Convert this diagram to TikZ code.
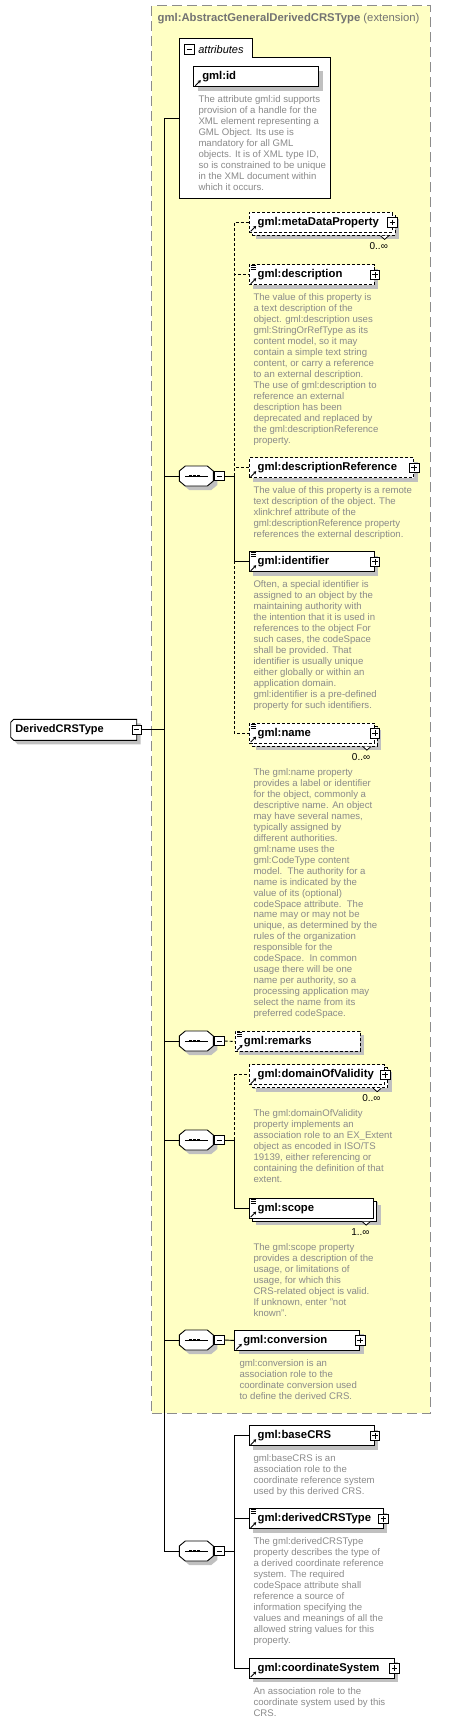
\documentclass[tikz,border=0pt]{standalone}
\usepackage{fontspec}
\setmainfont{Liberation Sans}
\usepackage{tikz}
\usetikzlibrary{arrows.meta,positioning,shadows}
\definecolor{extfill}{HTML}{FFFFC4}
\definecolor{extline}{HTML}{8C8C8C}
\definecolor{shadowgray}{HTML}{C0C0C0}
\definecolor{docgray}{HTML}{8A8A8A}
\definecolor{titlegray}{HTML}{737373}
\newcommand{\xsdlabelfont}{\fontsize{11.3}{13}\selectfont\bfseries}
\newcommand{\xsddocfont}{\fontsize{9.6}{10.97}\selectfont}
\tikzset{
    extbox/.style={
        draw=extline, fill=extfill, line width=0.9pt, dash pattern=on 10pt off 5pt,
        anchor=north west, inner sep=0},
    exttitle/.style={anchor=west, inner sep=0, text=titlegray, font=\fontsize{11.3}{13}\selectfont},
    xsdframe/.style={draw, fill=white, line width=0.9pt},
    attrtitle/.style={inner sep=0, font=\fontsize{11}{13}\selectfont\itshape},
    xsdshadow/.style={general shadow={fill=shadowgray, shadow xshift=4pt, shadow yshift=-4pt}},
    xsdshape/.style={draw, fill=white, line width=0.9pt, xsdshadow},
    xsdelem/.style={
        draw, fill=white, line width=0.9pt, anchor=north west,
        minimum height=20pt, inner xsep=8.5pt, inner ysep=0, align=left,
        font=\xsdlabelfont, xsdshadow},
    xsdopt/.style={dash pattern=on 3pt off 2pt},
    xsdmulti/.style={
        general shadow={fill=shadowgray, shadow xshift=7pt, shadow yshift=-7pt},
        general shadow={draw, fill=white, shadow xshift=3pt, shadow yshift=-3pt}},
    xsdroot/.style={
        anchor=north west, minimum height=21pt, text width=116.8pt, inner xsep=4.6pt,
        inner ysep=0, outer sep=0, align=left, font=\fontsize{11}{13}\selectfont\bfseries},
    xsdseq/.style={minimum width=34pt, minimum height=20pt, inner sep=0, outer sep=0, anchor=west},
    xsdbox/.style={draw, fill=white, line width=0.8pt, minimum size=9.5pt, inner sep=0},
    xsdminus/.style={xsdbox, path picture={
            \draw ([xshift=2pt]path picture bounding box.west)
                -- ([xshift=-2pt]path picture bounding box.east);}},
    xsdplus/.style={xsdbox, path picture={
            \draw ([xshift=2pt]path picture bounding box.west)
                -- ([xshift=-2pt]path picture bounding box.east)
                ([yshift=-2pt]path picture bounding box.north)
                -- ([yshift=2pt]path picture bounding box.south);}},
    xsddoc/.style={inner sep=0, align=left, text=docgray, font=\xsddocfont},
    xsdmult/.style={inner sep=0, anchor=east, font=\fontsize{10}{12}\selectfont},
    xsdref/.style={line width=0.9pt, -{Stealth[length=3pt,width=3.5pt]}},
    xsdlink/.style={line width=0.9pt},
    xsdoptlink/.style={xsdlink, dash pattern=on 3pt off 2pt},
}

\begin{document}
\begin{tikzpicture}[x=1pt, y=-1pt]
    \useasboundingbox (0,0) rectangle (469,1722);

    % --- Extension frame --------------------------------------------------------
    \node[extbox, minimum width=278.7pt, minimum height=1407.4pt] (ext) at (151.3,5.3) {};
    \node[exttitle] (ext-title) at (157.5,19) {%
        \textbf{gml:AbstractGeneralDerivedCRSType} (extension)};

    % --- Attributes -------------------------------------------------------------
    \draw[xsdframe] (179.3,198.3) |- (252.3,38.3) |- (330.3,57.3) -- (330.3,198.3) -- cycle;
    \node[xsdminus] (attr-minus) at (189.5,49.5) {};
    \node[attrtitle, right=3.5pt of attr-minus] (attr-title) {attributes};
    \coordinate (attr) at (179.3,118.3);
    \node[xsdelem, text width=108pt] (id) at (193.3,66.3) {gml:id};
    \node[xsddoc, below right=8.3pt and 5pt of id.south west] (id-doc) {%
        The attribute gml:id supports\\
        provision of a handle for the\\
        XML element representing a\\
        GML Object. Its use is\\
        mandatory for all GML\\
        objects. It is of XML type ID,\\
        so is constrained to be unique\\
        in the XML document within\\
        which it occurs.};

    % --- Root -------------------------------------------------------------------
    \draw[xsdshape] (13.7,719.3) -- (136.7,719.3) -- (136.7,740.3) -- (13.7,740.3)
        -- (10.7,737.3) -- (10.7,722.3) -- cycle;
    \node[xsdroot] (root) at (10.7,719.3) {DerivedCRSType};
    \node[xsdminus] (root-minus) at (root.east) {};

    % --- Compositors ------------------------------------------------------------
    \foreach \s/\y in {seq1/476,seq2/1041,seq3/1140,seq4/1340,seq5/1551} {
        \draw[xsdshape] (179.3,\y) ++(0,-5) -- ++(6,-5) -- ++(22,0) -- ++(6,5)
            -- ++(0,10) -- ++(-6,5) -- ++(-22,0) -- ++(-6,-5) -- cycle;
        \node[xsdseq] (\s) at (179.3,\y) {};
        \draw[xsdlink] ([xshift=-11pt]\s.center) -- ([xshift=12pt]\s.center);
        \foreach \d in {-6pt,-2pt,2pt}
            \fill ([xshift=\d]\s.center) +(-1.5,-1.3) rectangle +(1.5,1.3);
        \node[xsdminus, right=1pt of \s] (\s-minus) {};
    }

    % --- First sequence ---------------------------------------------------------
    \node[xsdelem, xsdopt, xsdmulti, text width=126pt] (meta) at (248.7,212) {gml:metaDataProperty};
    \node[xsdelem, xsdopt, text width=108.3pt] (desc) at (248.7,264.3) {gml:description};
    \node[xsddoc, below right=8.3pt and 4.6pt of desc.south west] (desc-doc) {%
        The value of this property is\\
        a text description of the\\
        object. gml:description uses\\
        gml:StringOrRefType as its\\
        content model, so it may\\
        contain a simple text string\\
        content, or carry a reference\\
        to an external description.\\
        The use of gml:description to\\
        reference an external\\
        description has been\\
        deprecated and replaced by\\
        the gml:descriptionReference\\
        property.};
    \node[xsdelem, xsdopt, text width=147.6pt] (descref) at (248.7,457.3) {gml:descriptionReference};
    \node[xsddoc, below right=8.3pt and 4.6pt of descref.south west] (descref-doc) {%
        The value of this property is a remote\\
        text description of the object. The\\
        xlink:href attribute of the\\
        gml:descriptionReference property\\
        references the external description.};
    \node[xsdelem, text width=108.3pt] (ident) at (248.7,551.3) {gml:identifier};
    \node[xsddoc, below right=8.3pt and 4.6pt of ident.south west] (ident-doc) {%
        Often, a special identifier is\\
        assigned to an object by the\\
        maintaining authority with\\
        the intention that it is used in\\
        references to the object For\\
        such cases, the codeSpace\\
        shall be provided. That\\
        identifier is usually unique\\
        either globally or within an\\
        application domain.\\
        gml:identifier is a pre-defined\\
        property for such identifiers.};
    \node[xsdelem, xsdopt, xsdmulti, text width=108.3pt] (name) at (248.7,722.7) {gml:name};
    \node[xsddoc, below right=24.6pt and 4.6pt of name.south west] (name-doc) {%
        The gml:name property\\
        provides a label or identifier\\
        for the object, commonly a\\
        descriptive name. An object\\
        may have several names,\\
        typically assigned by\\
        different authorities.\\
        gml:name uses the\\
        gml:CodeType content\\
        model.\ \ The authority for a\\
        name is indicated by the\\
        value of its (optional)\\
        codeSpace attribute.\ \ The\\
        name may or may not be\\
        unique, as determined by the\\
        rules of the organization\\
        responsible for the\\
        codeSpace.\ \ In common\\
        usage there will be one\\
        name per authority, so a\\
        processing application may\\
        select the name from its\\
        preferred codeSpace.};

    % --- Second and third sequence ----------------------------------------------
    \node[xsdelem, xsdopt, text width=108pt] (remarks) at (235,1031) {gml:remarks};
    \node[xsdelem, xsdopt, xsdmulti, text width=118.6pt] (dov) at (248.7,1064.3) {gml:domainOfValidity};
    \node[xsddoc, below right=24.6pt and 4.6pt of dov.south west] (dov-doc) {%
        The gml:domainOfValidity\\
        property implements an\\
        association role to an EX\_Extent\\
        object as encoded in ISO/TS\\
        19139, either referencing or\\
        containing the definition of that\\
        extent.};
    \node[xsdelem, xsdmulti, text width=107.6pt] (scope) at (248.7,1197.7) {gml:scope};
    \node[xsddoc, below right=24.6pt and 4.6pt of scope.south west] (scope-doc) {%
        The gml:scope property\\
        provides a description of the\\
        usage, or limitations of\\
        usage, for which this\\
        CRS-related object is valid.\\
        If unknown, enter "not\\
        known".};

    % --- Fourth sequence --------------------------------------------------------
    \node[xsdelem, text width=108pt] (conv) at (234.3,1330) {gml:conversion};
    \node[xsddoc, below right=8.3pt and 5pt of conv.south west] (conv-doc) {%
        gml:conversion is an\\
        association role to the\\
        coordinate conversion used\\
        to define the derived CRS.};

    % --- Fifth sequence ---------------------------------------------------------
    \node[xsdelem, text width=108.3pt] (base) at (248.7,1425.3) {gml:baseCRS};
    \node[xsddoc, below right=8.3pt and 4.6pt of base.south west] (base-doc) {%
        gml:baseCRS is an\\
        association role to the\\
        coordinate reference system\\
        used by this derived CRS.};
    \node[xsdelem, text width=116.8pt] (dcrs) at (248.7,1508.3) {gml:derivedCRSType};
    \node[xsddoc, below right=8.3pt and 4.6pt of dcrs.south west] (dcrs-doc) {%
        The gml:derivedCRSType\\
        property describes the type of\\
        a derived coordinate reference\\
        system. The required\\
        codeSpace attribute shall\\
        reference a source of\\
        information specifying the\\
        values and meanings of all the\\
        allowed string values for this\\
        property.};
    \node[xsdelem, text width=128pt] (cs) at (248.7,1657.7) {gml:coordinateSystem};
    \node[xsddoc, below right=8.3pt and 4.6pt of cs.south west] (cs-doc) {%
        An association role to the\\
        coordinate system used by this\\
        CRS.};

    % --- Icons, expanders and occurrences ---------------------------------------
    \foreach \e in {id,meta,desc,descref,ident,name,remarks,dov,scope,conv,base,dcrs,cs}
        \draw[xsdref] ([shift={(2,-1.5)}]\e.south west) -- ++(5.5,-5.5);
    \foreach \e in {desc,ident,name,remarks,scope,dcrs}
        \foreach \k in {1.5,3.5,5.5}
            \draw[line width=0.8pt] ([shift={(2,\k)}]\e.north west) -- ++(5,0);
    \foreach \e in {meta,desc,descref,ident,name,dov,conv,base,dcrs,cs}
        \node[xsdplus] (\e-plus) at (\e.east) {};
    \foreach \e in {meta,name,dov,scope}
        \draw[line width=0.8pt, fill=white] ([shift={(-12,3)}]\e.south east) -- ++(4,3.5) -- ++(4,-3.5);
    \node[xsdmult] (meta-mult) at ([shift={(-4.5,13)}]meta.south east) {0..∞};
    \node[xsdmult] (name-mult) at ([shift={(-4.5,13)}]name.south east) {0..∞};
    \node[xsdmult] (dov-mult) at ([shift={(-4.5,13)}]dov.south east) {0..∞};
    \node[xsdmult] (scope-mult) at ([shift={(-4.5,13)}]scope.south east) {1..∞};

    % --- Tree lines -------------------------------------------------------------
    \coordinate (trunk) at (164.3,118.3);
    \draw[xsdlink] (root-minus.east) -- (root-minus.east -| trunk);
    \draw[xsdlink] (attr) -- (trunk) -- (trunk |- seq5.west);
    \foreach \s in {seq1,seq2,seq3,seq4,seq5}
        \draw[xsdlink] (trunk |- \s.west) -- (\s.west);
    \draw[xsdlink] (seq1-minus.east) -- ++(9.6,0) |- (ident.west);
    \foreach \c in {meta,desc,descref,name}
        \draw[xsdoptlink] (seq1-minus.east) ++(9.6,0) |- (\c.west);
    \draw[xsdoptlink] (seq2-minus.east) -- (remarks.west);
    \draw[xsdlink] (seq3-minus.east) -- ++(9.6,0) |- (scope.west);
    \draw[xsdoptlink] (seq3-minus.east) ++(9.6,0) |- (dov.west);
    \draw[xsdlink] (seq4-minus.east) -- (conv.west);
    \foreach \c in {base,dcrs,cs}
        \draw[xsdlink] (seq5-minus.east) -- ++(9.6,0) |- (\c.west);

\end{tikzpicture}
\end{document}
